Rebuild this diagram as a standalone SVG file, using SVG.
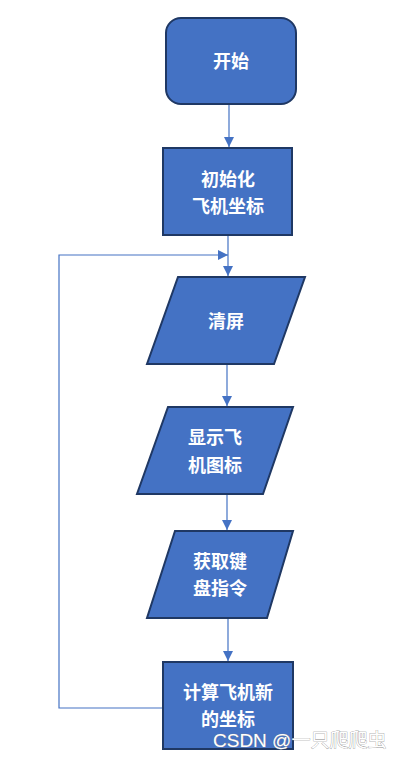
<svg xmlns="http://www.w3.org/2000/svg" width="401" height="759" viewBox="0 0 401 759">
<style>
.n{fill:#4472C4;stroke:#1F3864;stroke-width:2}
.t{fill:#fff;font-family:"Noto Sans CJK SC","Noto Sans",sans-serif;font-size:18px;font-weight:bold;text-anchor:middle;dominant-baseline:central}
.c{fill:none;stroke:#4472C4;stroke-width:1.2}
.w{fill:#fff;font-family:"Liberation Sans","Noto Sans CJK SC",sans-serif;font-size:19px;stroke:#888;stroke-width:0.6;paint-order:stroke}
</style>
<defs>
<marker id="a" markerWidth="10" markerHeight="10" refX="10" refY="5" orient="auto" markerUnits="userSpaceOnUse">
<path d="M0,0 L10,5 L0,10 Z" fill="#4472C4"/>
</marker>
</defs>
<rect width="401" height="759" fill="#fff"/>
<g id="connectors">
<line class="c" x1="229" y1="104" x2="229" y2="147" marker-end="url(#a)"/>
<line class="c" x1="228" y1="235" x2="228" y2="276" marker-end="url(#a)"/>
<polyline class="c" points="163,708 59,708 59,255 228,255" marker-end="url(#a)"/>
<line class="c" x1="227" y1="364" x2="227" y2="406" marker-end="url(#a)"/>
<line class="c" x1="227" y1="494" x2="227" y2="530" marker-end="url(#a)"/>
<line class="c" x1="228" y1="618" x2="228" y2="661" marker-end="url(#a)"/>
</g>
<g id="start">
<rect class="n" x="166" y="18" width="130" height="86" rx="15"/>
<text class="t" x="231" y="60">开始</text>
</g>
<g id="init">
<rect class="n" x="163" y="148" width="129" height="87"/>
<text class="t" x="228" y="178">初始化</text>
<text class="t" x="228" y="205">飞机坐标</text>
</g>
<g id="clear">
<polygon class="n" points="178,277 305,277 274,364 147,364"/>
<text class="t" x="226" y="320">清屏</text>
</g>
<g id="show">
<polygon class="n" points="168,407 293,407 263,494 137,494"/>
<text class="t" x="215" y="436">显示飞</text>
<text class="t" x="215" y="464">机图标</text>
</g>
<g id="key">
<polygon class="n" points="175,531 293,531 267,618 147,618"/>
<text class="t" x="220" y="560">获取键</text>
<text class="t" x="220" y="587">盘指令</text>
</g>
<g id="calc">
<rect class="n" x="163" y="662" width="130" height="87"/>
<text class="t" x="228" y="691">计算飞机新</text>
<text class="t" x="228" y="718">的坐标</text>
</g>
<text class="w" x="213" y="747">CSDN @一只爬爬虫</text>
</svg>
